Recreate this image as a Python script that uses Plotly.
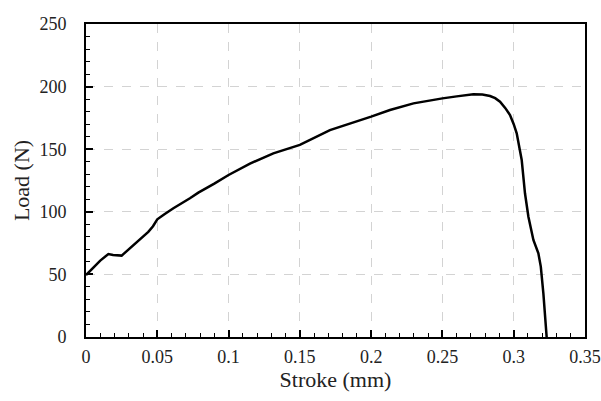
import plotly.graph_objects as go

stroke_mm = [0.0, 0.005, 0.010, 0.0157, 0.019, 0.025, 0.030, 0.037, 0.0437, 0.047, 0.050,
             0.055, 0.0613, 0.0729, 0.0788, 0.090, 0.100, 0.115, 0.1314, 0.150, 0.1711, 0.200,
             0.2132, 0.2297, 0.240, 0.250, 0.260, 0.2717, 0.278, 0.2834, 0.287, 0.2904,
             0.294, 0.2974, 0.300, 0.3021, 0.3056, 0.3079, 0.3103, 0.3138, 0.3173, 0.319,
             0.3208, 0.3231]
load_n = [49.5, 55.5, 61.0, 66.3, 65.5, 65.0, 70.0, 77.0, 84.0, 88.5, 94.0,
          98.0, 102.8, 110.8, 115.3, 122.5, 129.4, 138.5, 146.7, 153.4, 165.3, 176.0,
          181.3, 186.6, 188.8, 190.6, 192.2, 193.8, 193.6, 192.5, 190.8, 188.0,
          183.0, 177.3, 170.0, 162.7, 141.4, 114.8, 96.1, 77.5, 66.8, 56.2,
          34.9, 0.0]

x_ticks = [0, 0.05, 0.1, 0.15, 0.2, 0.25, 0.3, 0.35]
x_tick_labels = ["0", "0.05", "0.1", "0.15", "0.2", "0.25", "0.3", "0.35"]
y_ticks = [0, 50, 100, 150, 200, 250]

fig = go.Figure()
fig.add_trace(go.Scatter(x=stroke_mm, y=load_n, mode="lines",
                         line=dict(color="black", width=2.5),
                         showlegend=False))

font = dict(family="Liberation Serif", size=18, color="#222222")

fig.update_layout(
    width=601, height=401,
    margin=dict(l=86, r=16, t=24, b=64),
    paper_bgcolor="white", plot_bgcolor="white",
    font=font,
)
fig.update_xaxes(
    range=[0, 0.35], tickvals=x_ticks, ticktext=x_tick_labels,
    showline=True, linecolor="black", linewidth=2, mirror=True,
    ticks="inside", ticklen=7, tickwidth=1.5, tickcolor="black",
    minor=dict(dtick=0.01, ticks="inside", ticklen=4, tickwidth=1.2, tickcolor="black", showgrid=False),
    showgrid=True, gridcolor="#d3d3d3", griddash="dash", gridwidth=1,
    zeroline=False, ticklabelstandoff=2, automargin=False, ticklabeloverflow="allow",
    title=dict(text="Stroke (mm)", font=dict(size=22), standoff=4),
)
fig.update_yaxes(
    range=[0, 250], tickvals=y_ticks,
    showline=True, linecolor="black", linewidth=2, mirror=True,
    ticks="inside", ticklen=7, tickwidth=1.5, tickcolor="black",
    minor=dict(dtick=10, ticks="inside", ticklen=4, tickwidth=1.2, tickcolor="black", showgrid=False),
    showgrid=True, gridcolor="#d3d3d3", griddash="dash", gridwidth=1,
    zeroline=False, ticklabelstandoff=14, automargin=False, ticklabeloverflow="allow",
    title=dict(text="Load (N)", font=dict(size=22), standoff=4),
)

fig.write_html("out.html",
               config={"displayModeBar": False},
               post_script="document.body.style.margin='0';document.body.style.overflow='hidden';")
